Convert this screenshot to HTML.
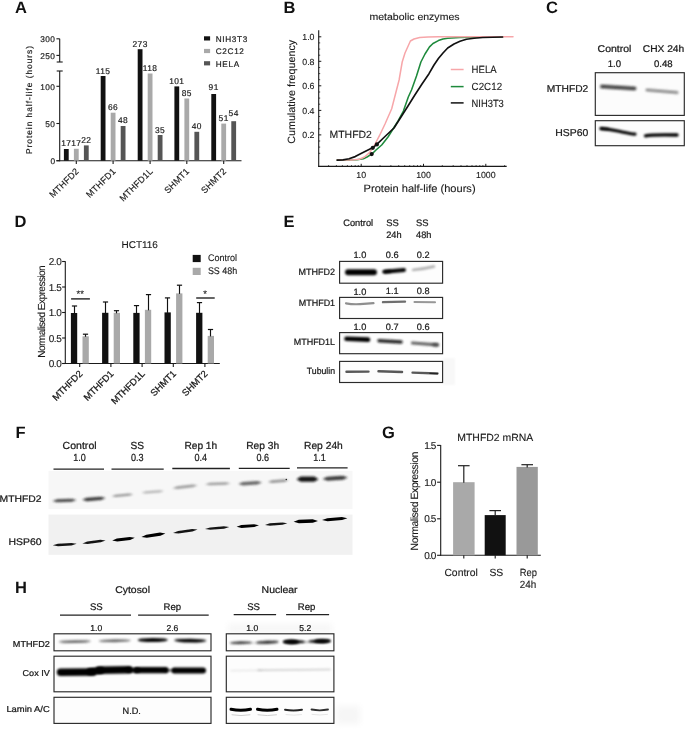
<!DOCTYPE html>
<html><head><meta charset="utf-8"><title>Figure</title>
<style>html,body{margin:0;padding:0;background:#fff;}svg{display:block;will-change:transform;}text{font-family:"Liberation Sans",sans-serif;text-rendering:geometricPrecision;stroke:#1a1a1a;stroke-width:0.12px;}text.L{stroke:none;}#panelA text{stroke-width:0.18px;}#panelC text,#panelE text,#panelF text,#panelH text{stroke-width:0.24px;}text.R{stroke-width:0.25px;}</style>
</head><body>
<svg width="685" height="729" viewBox="0 0 685 729">
<defs>
<filter id="b1" filterUnits="userSpaceOnUse" x="0" y="0" width="685" height="729"><feGaussianBlur stdDeviation="0.9"/></filter>
<filter id="b2" filterUnits="userSpaceOnUse" x="0" y="0" width="685" height="729"><feGaussianBlur stdDeviation="1.3"/></filter>
<filter id="b05" filterUnits="userSpaceOnUse" x="0" y="0" width="685" height="729"><feGaussianBlur stdDeviation="0.6"/></filter>
<filter id="b07" filterUnits="userSpaceOnUse" x="0" y="0" width="685" height="729"><feGaussianBlur stdDeviation="0.75"/></filter>
<filter id="b3" filterUnits="userSpaceOnUse" x="0" y="0" width="685" height="729"><feGaussianBlur stdDeviation="3"/></filter>
</defs>
<rect x="0" y="0" width="685" height="729" fill="#ffffff"/>
<text x="15" y="13" font-size="16.5" text-anchor="start" fill="#111" font-weight="bold" class="L">A</text>
<text x="283.5" y="12.5" font-size="16.5" text-anchor="start" fill="#111" font-weight="bold" class="L">B</text>
<text x="546" y="13" font-size="16.5" text-anchor="start" fill="#111" font-weight="bold" class="L">C</text>
<text x="14.5" y="226.5" font-size="16.5" text-anchor="start" fill="#111" font-weight="bold" class="L">D</text>
<text x="283.5" y="227" font-size="16.5" text-anchor="start" fill="#111" font-weight="bold" class="L">E</text>
<text x="15.5" y="437.5" font-size="16.5" text-anchor="start" fill="#111" font-weight="bold" class="L">F</text>
<text x="382" y="437.6" font-size="16.5" text-anchor="start" fill="#111" font-weight="bold" class="L">G</text>
<text x="15" y="592.8" font-size="16.5" text-anchor="start" fill="#111" font-weight="bold" class="L">H</text>
<g id="panelA">
<line x1="59.7" y1="38.8" x2="59.7" y2="62" stroke="#1a1a1a" stroke-width="1.1" />
<line x1="59.7" y1="71" x2="59.7" y2="161.2" stroke="#1a1a1a" stroke-width="1.1" />
<line x1="56.7" y1="62" x2="62.7" y2="62" stroke="#1a1a1a" stroke-width="1.1" />
<line x1="56.7" y1="71" x2="62.7" y2="71" stroke="#1a1a1a" stroke-width="1.1" />
<line x1="56.400000000000006" y1="38.8" x2="59.7" y2="38.8" stroke="#1a1a1a" stroke-width="1.1" />
<line x1="56.400000000000006" y1="55.4" x2="59.7" y2="55.4" stroke="#1a1a1a" stroke-width="1.1" />
<line x1="56.400000000000006" y1="86.3" x2="59.7" y2="86.3" stroke="#1a1a1a" stroke-width="1.1" />
<line x1="56.400000000000006" y1="123.5" x2="59.7" y2="123.5" stroke="#1a1a1a" stroke-width="1.1" />
<line x1="56.400000000000006" y1="160.7" x2="59.7" y2="160.7" stroke="#1a1a1a" stroke-width="1.1" />
<line x1="56.4" y1="160.7" x2="241.5" y2="160.7" stroke="#1a1a1a" stroke-width="1.1" />
<text x="55.400000000000006" y="42.199999999999996" font-size="8.3" text-anchor="end" fill="#1a1a1a" letter-spacing="0.4" >300</text>
<text x="55.400000000000006" y="58.8" font-size="8.3" text-anchor="end" fill="#1a1a1a" letter-spacing="0.4" >250</text>
<text x="55.400000000000006" y="89.7" font-size="8.3" text-anchor="end" fill="#1a1a1a" letter-spacing="0.4" >100</text>
<text x="55.400000000000006" y="126.9" font-size="8.3" text-anchor="end" fill="#1a1a1a" letter-spacing="0.4" >50</text>
<text x="55.400000000000006" y="164.1" font-size="8.3" text-anchor="end" fill="#1a1a1a" letter-spacing="0.4" >0</text>
<text x="32.0" y="100" font-size="8.4" text-anchor="middle" fill="#1a1a1a" textLength="108" lengthAdjust="spacing" transform="rotate(-90 32.0 100)" >Protein half-life (hours)</text>
<rect x="63.9" y="149" width="4.8" height="11.7" fill="#111111" />
<text x="66.3" y="146.2" font-size="8.4" text-anchor="middle" fill="#1a1a1a" letter-spacing="0.45" >17</text>
<rect x="73.9" y="148.8" width="4.8" height="11.9" fill="#a9a9a9" />
<text x="76.3" y="146.2" font-size="8.4" text-anchor="middle" fill="#1a1a1a" letter-spacing="0.45" >17</text>
<rect x="83.9" y="145.4" width="4.8" height="15.3" fill="#555555" />
<text x="86.3" y="143.4" font-size="8.4" text-anchor="middle" fill="#1a1a1a" letter-spacing="0.45" >22</text>
<line x1="76.3" y1="160.7" x2="76.3" y2="164.0" stroke="#1a1a1a" stroke-width="1.1" />
<text x="79.5" y="171.89999999999998" font-size="9.0" text-anchor="end" fill="#1a1a1a" letter-spacing="0.15" transform="rotate(-45 79.5 171.89999999999998)" >MTHFD2</text>
<rect x="100.7" y="76" width="4.8" height="84.7" fill="#111111" />
<text x="103.1" y="74.1" font-size="8.4" text-anchor="middle" fill="#1a1a1a" letter-spacing="0.45" >115</text>
<rect x="110.7" y="112.7" width="4.8" height="48.0" fill="#a9a9a9" />
<text x="113.1" y="109.7" font-size="8.4" text-anchor="middle" fill="#1a1a1a" letter-spacing="0.45" >66</text>
<rect x="120.7" y="126" width="4.8" height="34.7" fill="#555555" />
<text x="123.1" y="122.6" font-size="8.4" text-anchor="middle" fill="#1a1a1a" letter-spacing="0.45" >48</text>
<line x1="113.1" y1="160.7" x2="113.1" y2="164.0" stroke="#1a1a1a" stroke-width="1.1" />
<text x="116.3" y="171.89999999999998" font-size="9.0" text-anchor="end" fill="#1a1a1a" letter-spacing="0.15" transform="rotate(-45 116.3 171.89999999999998)" >MTHFD1</text>
<rect x="137.7" y="49.2" width="4.8" height="111.5" fill="#111111" />
<text x="140.1" y="46.7" font-size="8.4" text-anchor="middle" fill="#1a1a1a" letter-spacing="0.45" >273</text>
<rect x="147.7" y="73.5" width="4.8" height="87.2" fill="#a9a9a9" />
<text x="150.1" y="70.6" font-size="8.4" text-anchor="middle" fill="#1a1a1a" letter-spacing="0.45" >118</text>
<rect x="157.7" y="135" width="4.8" height="25.7" fill="#555555" />
<text x="160.1" y="132.9" font-size="8.4" text-anchor="middle" fill="#1a1a1a" letter-spacing="0.45" >35</text>
<line x1="150.1" y1="160.7" x2="150.1" y2="164.0" stroke="#1a1a1a" stroke-width="1.1" />
<text x="153.3" y="171.89999999999998" font-size="9.0" text-anchor="end" fill="#1a1a1a" letter-spacing="0.15" transform="rotate(-45 153.3 171.89999999999998)" >MTHFD1L</text>
<rect x="174.4" y="86.4" width="4.8" height="74.3" fill="#111111" />
<text x="176.8" y="83.5" font-size="8.4" text-anchor="middle" fill="#1a1a1a" letter-spacing="0.45" >101</text>
<rect x="184.4" y="98.5" width="4.8" height="62.2" fill="#a9a9a9" />
<text x="186.8" y="96.1" font-size="8.4" text-anchor="middle" fill="#1a1a1a" letter-spacing="0.45" >85</text>
<rect x="194.4" y="131.8" width="4.8" height="28.9" fill="#555555" />
<text x="196.8" y="129.4" font-size="8.4" text-anchor="middle" fill="#1a1a1a" letter-spacing="0.45" >40</text>
<line x1="186.8" y1="160.7" x2="186.8" y2="164.0" stroke="#1a1a1a" stroke-width="1.1" />
<text x="190.0" y="171.89999999999998" font-size="9.0" text-anchor="end" fill="#1a1a1a" letter-spacing="0.15" transform="rotate(-45 190.0 171.89999999999998)" >SHMT1</text>
<rect x="211.3" y="94" width="4.8" height="66.7" fill="#111111" />
<text x="213.7" y="89.6" font-size="8.4" text-anchor="middle" fill="#1a1a1a" letter-spacing="0.45" >91</text>
<rect x="221.3" y="123.6" width="4.8" height="37.1" fill="#a9a9a9" />
<text x="223.7" y="121.3" font-size="8.4" text-anchor="middle" fill="#1a1a1a" letter-spacing="0.45" >51</text>
<rect x="231.3" y="121.2" width="4.8" height="39.5" fill="#555555" />
<text x="233.7" y="116.2" font-size="8.4" text-anchor="middle" fill="#1a1a1a" letter-spacing="0.45" >54</text>
<line x1="223.7" y1="160.7" x2="223.7" y2="164.0" stroke="#1a1a1a" stroke-width="1.1" />
<text x="226.9" y="171.89999999999998" font-size="9.0" text-anchor="end" fill="#1a1a1a" letter-spacing="0.15" transform="rotate(-45 226.9 171.89999999999998)" >SHMT2</text>
<rect x="204" y="36.3" width="6.1" height="4.2" fill="#111111" />
<text x="215.8" y="41.6" font-size="8.2" text-anchor="start" fill="#1a1a1a" letter-spacing="0.65" >NIH3T3</text>
<rect x="204" y="48.9" width="6.1" height="4.2" fill="#a9a9a9" />
<text x="215.8" y="54.2" font-size="8.2" text-anchor="start" fill="#1a1a1a" letter-spacing="0.65" >C2C12</text>
<rect x="204" y="61.199999999999996" width="6.1" height="4.2" fill="#555555" />
<text x="215.8" y="66.5" font-size="8.2" text-anchor="start" fill="#1a1a1a" letter-spacing="0.65" >HELA</text>
</g>
<g id="panelB">
<line x1="318.7" y1="30.2" x2="318.7" y2="166.9" stroke="#1a1a1a" stroke-width="1.1" />
<line x1="318.2" y1="166.4" x2="506.7" y2="166.4" stroke="#1a1a1a" stroke-width="1.1" />
<line x1="318.7" y1="153.3" x2="320.2" y2="153.3" stroke="#1a1a1a" stroke-width="0.8" />
<line x1="318.7" y1="147.1" x2="320.2" y2="147.1" stroke="#1a1a1a" stroke-width="0.8" />
<line x1="318.7" y1="141.0" x2="320.2" y2="141.0" stroke="#1a1a1a" stroke-width="0.8" />
<line x1="318.7" y1="134.9" x2="321.3" y2="134.9" stroke="#1a1a1a" stroke-width="1.0" />
<line x1="318.7" y1="128.8" x2="320.2" y2="128.8" stroke="#1a1a1a" stroke-width="0.8" />
<line x1="318.7" y1="122.6" x2="320.2" y2="122.6" stroke="#1a1a1a" stroke-width="0.8" />
<line x1="318.7" y1="116.5" x2="320.2" y2="116.5" stroke="#1a1a1a" stroke-width="0.8" />
<line x1="318.7" y1="110.4" x2="321.3" y2="110.4" stroke="#1a1a1a" stroke-width="1.0" />
<line x1="318.7" y1="104.2" x2="320.2" y2="104.2" stroke="#1a1a1a" stroke-width="0.8" />
<line x1="318.7" y1="98.1" x2="320.2" y2="98.1" stroke="#1a1a1a" stroke-width="0.8" />
<line x1="318.7" y1="92.0" x2="320.2" y2="92.0" stroke="#1a1a1a" stroke-width="0.8" />
<line x1="318.7" y1="85.8" x2="321.3" y2="85.8" stroke="#1a1a1a" stroke-width="1.0" />
<line x1="318.7" y1="79.7" x2="320.2" y2="79.7" stroke="#1a1a1a" stroke-width="0.8" />
<line x1="318.7" y1="73.6" x2="320.2" y2="73.6" stroke="#1a1a1a" stroke-width="0.8" />
<line x1="318.7" y1="67.5" x2="320.2" y2="67.5" stroke="#1a1a1a" stroke-width="0.8" />
<line x1="318.7" y1="61.3" x2="321.3" y2="61.3" stroke="#1a1a1a" stroke-width="1.0" />
<line x1="318.7" y1="55.2" x2="320.2" y2="55.2" stroke="#1a1a1a" stroke-width="0.8" />
<line x1="318.7" y1="49.1" x2="320.2" y2="49.1" stroke="#1a1a1a" stroke-width="0.8" />
<line x1="318.7" y1="42.9" x2="320.2" y2="42.9" stroke="#1a1a1a" stroke-width="0.8" />
<line x1="318.7" y1="36.8" x2="321.3" y2="36.8" stroke="#1a1a1a" stroke-width="1.0" />
<text x="314.5" y="138.1" font-size="8.8" text-anchor="end" fill="#1a1a1a" >0.2</text>
<text x="314.5" y="113.6" font-size="8.8" text-anchor="end" fill="#1a1a1a" >0.4</text>
<text x="314.5" y="89.0" font-size="8.8" text-anchor="end" fill="#1a1a1a" >0.6</text>
<text x="314.5" y="64.5" font-size="8.8" text-anchor="end" fill="#1a1a1a" >0.8</text>
<text x="314.5" y="40.0" font-size="8.8" text-anchor="end" fill="#1a1a1a" >1.0</text>
<line x1="328.6" y1="166.4" x2="328.6" y2="165.0" stroke="#1a1a1a" stroke-width="0.7" />
<line x1="336.4" y1="166.4" x2="336.4" y2="165.0" stroke="#1a1a1a" stroke-width="0.7" />
<line x1="342.4" y1="166.4" x2="342.4" y2="165.0" stroke="#1a1a1a" stroke-width="0.7" />
<line x1="347.4" y1="166.4" x2="347.4" y2="165.0" stroke="#1a1a1a" stroke-width="0.7" />
<line x1="351.5" y1="166.4" x2="351.5" y2="165.0" stroke="#1a1a1a" stroke-width="0.7" />
<line x1="355.2" y1="166.4" x2="355.2" y2="165.0" stroke="#1a1a1a" stroke-width="0.7" />
<line x1="358.3" y1="166.4" x2="358.3" y2="165.0" stroke="#1a1a1a" stroke-width="0.7" />
<line x1="361.2" y1="166.4" x2="361.2" y2="163.8" stroke="#1a1a1a" stroke-width="1.0" />
<line x1="380.0" y1="166.4" x2="380.0" y2="165.0" stroke="#1a1a1a" stroke-width="0.7" />
<line x1="390.9" y1="166.4" x2="390.9" y2="165.0" stroke="#1a1a1a" stroke-width="0.7" />
<line x1="398.7" y1="166.4" x2="398.7" y2="165.0" stroke="#1a1a1a" stroke-width="0.7" />
<line x1="404.7" y1="166.4" x2="404.7" y2="165.0" stroke="#1a1a1a" stroke-width="0.7" />
<line x1="409.7" y1="166.4" x2="409.7" y2="165.0" stroke="#1a1a1a" stroke-width="0.7" />
<line x1="413.8" y1="166.4" x2="413.8" y2="165.0" stroke="#1a1a1a" stroke-width="0.7" />
<line x1="417.5" y1="166.4" x2="417.5" y2="165.0" stroke="#1a1a1a" stroke-width="0.7" />
<line x1="420.6" y1="166.4" x2="420.6" y2="165.0" stroke="#1a1a1a" stroke-width="0.7" />
<line x1="423.5" y1="166.4" x2="423.5" y2="163.8" stroke="#1a1a1a" stroke-width="1.0" />
<line x1="442.3" y1="166.4" x2="442.3" y2="165.0" stroke="#1a1a1a" stroke-width="0.7" />
<line x1="453.2" y1="166.4" x2="453.2" y2="165.0" stroke="#1a1a1a" stroke-width="0.7" />
<line x1="461.0" y1="166.4" x2="461.0" y2="165.0" stroke="#1a1a1a" stroke-width="0.7" />
<line x1="467.0" y1="166.4" x2="467.0" y2="165.0" stroke="#1a1a1a" stroke-width="0.7" />
<line x1="472.0" y1="166.4" x2="472.0" y2="165.0" stroke="#1a1a1a" stroke-width="0.7" />
<line x1="476.1" y1="166.4" x2="476.1" y2="165.0" stroke="#1a1a1a" stroke-width="0.7" />
<line x1="479.8" y1="166.4" x2="479.8" y2="165.0" stroke="#1a1a1a" stroke-width="0.7" />
<line x1="482.9" y1="166.4" x2="482.9" y2="165.0" stroke="#1a1a1a" stroke-width="0.7" />
<line x1="485.8" y1="166.4" x2="485.8" y2="163.8" stroke="#1a1a1a" stroke-width="1.0" />
<line x1="504.6" y1="166.4" x2="504.6" y2="165.0" stroke="#1a1a1a" stroke-width="0.7" />
<text x="361.2" y="178.3" font-size="8.8" text-anchor="middle" fill="#1a1a1a" >10</text>
<text x="423.5" y="178.3" font-size="8.8" text-anchor="middle" fill="#1a1a1a" >100</text>
<text x="485.8" y="178.3" font-size="8.8" text-anchor="middle" fill="#1a1a1a" >1000</text>
<text x="419.6" y="192.3" font-size="10.5" text-anchor="middle" fill="#1a1a1a" textLength="112" lengthAdjust="spacingAndGlyphs" >Protein half-life (hours)</text>
<text x="295.2" y="91.8" font-size="10.5" text-anchor="middle" fill="#1a1a1a" textLength="104" lengthAdjust="spacingAndGlyphs" transform="rotate(-90 295.2 91.8)" >Cumulative frequency</text>
<text x="414.5" y="19.8" font-size="9.8" text-anchor="middle" fill="#1a1a1a" textLength="90" lengthAdjust="spacingAndGlyphs" >metabolic enzymes</text>
<polyline points="337.2,160.1 350,160.1 357,159.8 363.4,158.7 367,157 371.7,154.2 376,150 381.7,145 388,137 393,129 398.1,120.9 403.4,111 408.3,97 411.5,90 416.5,76 420.9,62 425,54 429.5,46.9 433,43.5 438.4,40.6 443,39 447.7,38.2 460,37.6 473.4,37.3 502.6,37" fill="none" stroke="#1e8a3c" stroke-width="1.55" stroke-linejoin="round" stroke-linecap="round"/>
<polyline points="337.2,160.1 352,160 359.3,159.3 364.5,157 369.5,152.6 374,146 379.7,135.2 385,124 391.7,108.8 396,92 399.1,80 402.2,62 405,53 410.4,41 414,39 419.7,37.6 428,37.1 438.4,36.8 470,36.8 513,36.8" fill="none" stroke="#f7a6a9" stroke-width="1.5" stroke-linejoin="round" stroke-linecap="round"/>
<polyline points="337.2,160.1 343,159.9 349,158.8 355.2,156.6 362,153 368,150 373,147.6 376.8,144.4 385,136.5 394,128 401,117 408,106 415,94.7 422,84 429,73.7 434,65 438.4,58.5 443,53 447.7,48 454,44 460,41.3 466.4,39.2 474,38.2 482.8,37.5 502.6,37" fill="none" stroke="#111111" stroke-width="1.65" stroke-linejoin="round" stroke-linecap="round"/>
<circle cx="372.8" cy="147.8" r="2.1" fill="#111"/>
<circle cx="376.9" cy="144.4" r="2.1" fill="#111"/>
<circle cx="371.7" cy="154.1" r="2.1" fill="#111"/>
<text x="329.5" y="137.8" font-size="10.4" text-anchor="start" fill="#1a1a1a" textLength="42.4" lengthAdjust="spacingAndGlyphs" >MTHFD2</text>
<line x1="450.8" y1="69.5" x2="463.6" y2="69.5" stroke="#f7a6a9" stroke-width="1.5" />
<text x="471.6" y="73.3" font-size="10.4" text-anchor="start" fill="#1a1a1a" textLength="25" lengthAdjust="spacingAndGlyphs" >HELA</text>
<line x1="450.8" y1="86.6" x2="463.6" y2="86.6" stroke="#1e8a3c" stroke-width="1.5" />
<text x="471.6" y="90.39999999999999" font-size="10.4" text-anchor="start" fill="#1a1a1a" textLength="30.5" lengthAdjust="spacingAndGlyphs" >C2C12</text>
<line x1="450.8" y1="102.9" x2="463.6" y2="102.9" stroke="#111" stroke-width="1.5" />
<text x="471.6" y="106.7" font-size="10.4" text-anchor="start" fill="#1a1a1a" textLength="32.2" lengthAdjust="spacingAndGlyphs" >NIH3T3</text>
</g>
<g id="panelC">
<text x="614.5" y="52.3" font-size="9.8" text-anchor="middle" fill="#1a1a1a" textLength="33.8" lengthAdjust="spacingAndGlyphs" >Control</text>
<text x="663.5" y="52.3" font-size="9.8" text-anchor="middle" fill="#1a1a1a" textLength="41.5" lengthAdjust="spacingAndGlyphs" >CHX 24h</text>
<text x="614.4" y="66.8" font-size="9.6" text-anchor="middle" fill="#1a1a1a" >1.0</text>
<text x="663.3" y="66.8" font-size="9.6" text-anchor="middle" fill="#1a1a1a" >0.48</text>
<rect x="595.3" y="72.7" width="89" height="42.7" fill="#fcfcfc" stroke="#2a2a2a" stroke-width="1.15" />
<rect x="595.3" y="120.7" width="89" height="25" fill="#fcfcfc" stroke="#2a2a2a" stroke-width="1.15" />
<text x="588.3" y="92.2" font-size="10" text-anchor="end" fill="#1a1a1a" textLength="41.5" lengthAdjust="spacingAndGlyphs" >MTHFD2</text>
<text x="588.3" y="136.4" font-size="10" text-anchor="end" fill="#1a1a1a" textLength="33" lengthAdjust="spacingAndGlyphs" >HSP60</text>
<line x1="602" y1="86.6" x2="634.5" y2="88.6" stroke="#555" stroke-width="5.0" stroke-linecap="round" opacity="0.35" filter="url(#b2)"/>
<line x1="602" y1="86.5" x2="634.5" y2="88.5" stroke="#222" stroke-width="2.8" stroke-linecap="round" opacity="0.8" filter="url(#b1)"/>
<line x1="647" y1="90.0" x2="677" y2="92.6" stroke="#777" stroke-width="4.0" stroke-linecap="round" opacity="0.3" filter="url(#b2)"/>
<line x1="647" y1="90.0" x2="677" y2="92.6" stroke="#444" stroke-width="2.0" stroke-linecap="round" opacity="0.55" filter="url(#b1)"/>
<line x1="601" y1="128.4" x2="608" y2="128.8" stroke="#000" stroke-width="1.6" stroke-linecap="round" opacity="0.8" filter="url(#b1)"/>
<path d="M601 128.6 C610 128.8 615 130.5 622 132 S632 134 635 134.2" fill="none" stroke="#000" stroke-width="3.2" stroke-linecap="round" filter="url(#b1)"/>
<path d="M645.5 135.8 C652 134.6 668 134.8 677 135" fill="none" stroke="#000" stroke-width="3.4" stroke-linecap="round" filter="url(#b1)"/>
</g>
<g id="panelD">
<line x1="65.3" y1="261.2" x2="65.3" y2="364.0" stroke="#1a1a1a" stroke-width="1.1" />
<line x1="62.4" y1="363.5" x2="219.8" y2="363.5" stroke="#1a1a1a" stroke-width="1.1" />
<line x1="62.099999999999994" y1="363.5" x2="65.3" y2="363.5" stroke="#1a1a1a" stroke-width="1.1" />
<text x="61.3" y="367.0" font-size="10" text-anchor="end" fill="#1a1a1a" letter-spacing="-0.45" >0.0</text>
<line x1="62.099999999999994" y1="338.0" x2="65.3" y2="338.0" stroke="#1a1a1a" stroke-width="1.1" />
<text x="61.3" y="341.5" font-size="10" text-anchor="end" fill="#1a1a1a" letter-spacing="-0.45" >0.5</text>
<line x1="62.099999999999994" y1="312.5" x2="65.3" y2="312.5" stroke="#1a1a1a" stroke-width="1.1" />
<text x="61.3" y="316.0" font-size="10" text-anchor="end" fill="#1a1a1a" letter-spacing="-0.45" >1.0</text>
<line x1="62.099999999999994" y1="287.0" x2="65.3" y2="287.0" stroke="#1a1a1a" stroke-width="1.1" />
<text x="61.3" y="290.5" font-size="10" text-anchor="end" fill="#1a1a1a" letter-spacing="-0.45" >1.5</text>
<line x1="62.099999999999994" y1="261.5" x2="65.3" y2="261.5" stroke="#1a1a1a" stroke-width="1.1" />
<text x="61.3" y="265.0" font-size="10" text-anchor="end" fill="#1a1a1a" letter-spacing="-0.45" >2.0</text>
<text x="44.8" y="311.5" font-size="10.2" text-anchor="middle" fill="#1a1a1a" textLength="92.5" lengthAdjust="spacing" transform="rotate(-90 44.8 311.5)" >Normalised Expression</text>
<text x="139.7" y="248.0" font-size="9.8" text-anchor="middle" fill="#1a1a1a" textLength="36.5" lengthAdjust="spacingAndGlyphs" >HCT116</text>
<rect x="70.9" y="313.0" width="6.3" height="50.5" fill="#111111" />
<line x1="74.5" y1="313.5" x2="74.5" y2="306" stroke="#111" stroke-width="1.15" />
<line x1="71.9" y1="306" x2="77.1" y2="306" stroke="#111" stroke-width="1.2" />
<rect x="82.5" y="336.3" width="6.3" height="27.2" fill="#a9a9a9" />
<line x1="85.5" y1="336.8" x2="85.5" y2="334.2" stroke="#111" stroke-width="1.15" />
<line x1="82.9" y1="334.2" x2="88.1" y2="334.2" stroke="#111" stroke-width="1.2" />
<line x1="79.7" y1="363.5" x2="79.7" y2="367.1" stroke="#1a1a1a" stroke-width="1.1" />
<text x="83.1" y="374.3" font-size="9.4" text-anchor="end" fill="#1a1a1a" transform="rotate(-45 83.1 374.3)" class="R">MTHFD2</text>
<rect x="102.1" y="312.8" width="6.3" height="50.7" fill="#111111" />
<line x1="105.5" y1="313.3" x2="105.5" y2="302" stroke="#111" stroke-width="1.15" />
<line x1="102.9" y1="302" x2="108.1" y2="302" stroke="#111" stroke-width="1.2" />
<rect x="113.7" y="312.8" width="6.3" height="50.7" fill="#a9a9a9" />
<line x1="116.5" y1="313.3" x2="116.5" y2="310.7" stroke="#111" stroke-width="1.15" />
<line x1="113.9" y1="310.7" x2="119.1" y2="310.7" stroke="#111" stroke-width="1.2" />
<line x1="110.9" y1="363.5" x2="110.9" y2="367.1" stroke="#1a1a1a" stroke-width="1.1" />
<text x="114.3" y="374.3" font-size="9.4" text-anchor="end" fill="#1a1a1a" transform="rotate(-45 114.3 374.3)" class="R">MTHFD1</text>
<rect x="133.3" y="312.9" width="6.3" height="50.6" fill="#111111" />
<line x1="136.5" y1="313.4" x2="136.5" y2="305.6" stroke="#111" stroke-width="1.15" />
<line x1="133.9" y1="305.6" x2="139.1" y2="305.6" stroke="#111" stroke-width="1.2" />
<rect x="144.9" y="309.8" width="6.3" height="53.7" fill="#a9a9a9" />
<line x1="148.5" y1="310.3" x2="148.5" y2="294.6" stroke="#111" stroke-width="1.15" />
<line x1="145.9" y1="294.6" x2="151.1" y2="294.6" stroke="#111" stroke-width="1.2" />
<line x1="142.1" y1="363.5" x2="142.1" y2="367.1" stroke="#1a1a1a" stroke-width="1.1" />
<text x="145.5" y="374.3" font-size="9.4" text-anchor="end" fill="#1a1a1a" transform="rotate(-45 145.5 374.3)" class="R">MTHFD1L</text>
<rect x="164.5" y="312.4" width="6.3" height="51.1" fill="#111111" />
<line x1="167.5" y1="312.9" x2="167.5" y2="297.9" stroke="#111" stroke-width="1.15" />
<line x1="164.9" y1="297.9" x2="170.1" y2="297.9" stroke="#111" stroke-width="1.2" />
<rect x="176.1" y="293.4" width="6.3" height="70.1" fill="#a9a9a9" />
<line x1="179.5" y1="293.9" x2="179.5" y2="285.2" stroke="#111" stroke-width="1.15" />
<line x1="176.9" y1="285.2" x2="182.1" y2="285.2" stroke="#111" stroke-width="1.2" />
<line x1="173.3" y1="363.5" x2="173.3" y2="367.1" stroke="#1a1a1a" stroke-width="1.1" />
<text x="176.7" y="374.3" font-size="9.4" text-anchor="end" fill="#1a1a1a" transform="rotate(-45 176.7 374.3)" class="R">SHMT1</text>
<rect x="196.1" y="312.8" width="6.3" height="50.7" fill="#111111" />
<line x1="199.5" y1="313.3" x2="199.5" y2="302.6" stroke="#111" stroke-width="1.15" />
<line x1="196.9" y1="302.6" x2="202.1" y2="302.6" stroke="#111" stroke-width="1.2" />
<rect x="207.7" y="335.9" width="6.3" height="27.6" fill="#a9a9a9" />
<line x1="210.5" y1="336.4" x2="210.5" y2="329.5" stroke="#111" stroke-width="1.15" />
<line x1="207.9" y1="329.5" x2="213.1" y2="329.5" stroke="#111" stroke-width="1.2" />
<line x1="204.9" y1="363.5" x2="204.9" y2="367.1" stroke="#1a1a1a" stroke-width="1.1" />
<text x="208.3" y="374.3" font-size="9.4" text-anchor="end" fill="#1a1a1a" transform="rotate(-45 208.3 374.3)" class="R">SHMT2</text>
<line x1="71.1" y1="298.9" x2="89.9" y2="298.9" stroke="#111" stroke-width="1.3" />
<text x="80.2" y="296.6" font-size="9.5" text-anchor="middle" fill="#1a1a1a" >**</text>
<line x1="196.2" y1="298.0" x2="214.7" y2="298.0" stroke="#111" stroke-width="1.3" />
<text x="205.2" y="296.6" font-size="9.5" text-anchor="middle" fill="#1a1a1a" >*</text>
<rect x="192.7" y="254.9" width="8" height="7.2" fill="#111" />
<rect x="192.7" y="267.8" width="8" height="7.2" fill="#a9a9a9" />
<text x="207.9" y="261.4" font-size="9.6" text-anchor="start" fill="#1a1a1a" textLength="29.2" lengthAdjust="spacingAndGlyphs" >Control</text>
<text x="207.9" y="274.4" font-size="9.6" text-anchor="start" fill="#1a1a1a" textLength="29.4" lengthAdjust="spacingAndGlyphs" >SS 48h</text>
</g>
<g id="panelE">
<text x="343.3" y="226.2" font-size="9.4" text-anchor="start" fill="#1a1a1a" textLength="29.8" lengthAdjust="spacingAndGlyphs" >Control</text>
<text x="386.2" y="226.2" font-size="9.4" text-anchor="start" fill="#1a1a1a" >SS</text>
<text x="386.2" y="237.6" font-size="9.4" text-anchor="start" fill="#1a1a1a" textLength="15.4" lengthAdjust="spacingAndGlyphs" >24h</text>
<text x="416" y="226.2" font-size="9.4" text-anchor="start" fill="#1a1a1a" >SS</text>
<text x="416" y="237.6" font-size="9.4" text-anchor="start" fill="#1a1a1a" textLength="15.4" lengthAdjust="spacingAndGlyphs" >48h</text>
<text x="359.9" y="257.9" font-size="9.2" text-anchor="middle" fill="#1a1a1a" >1.0</text>
<text x="392.2" y="257.9" font-size="9.2" text-anchor="middle" fill="#1a1a1a" >0.6</text>
<text x="423.2" y="257.9" font-size="9.2" text-anchor="middle" fill="#1a1a1a" >0.2</text>
<text x="359.9" y="294.9" font-size="9.2" text-anchor="middle" fill="#1a1a1a" >1.0</text>
<text x="392.2" y="294.0" font-size="9.2" text-anchor="middle" fill="#1a1a1a" >1.1</text>
<text x="423.2" y="293.6" font-size="9.2" text-anchor="middle" fill="#1a1a1a" >0.8</text>
<text x="359.9" y="330.4" font-size="9.2" text-anchor="middle" fill="#1a1a1a" >1.0</text>
<text x="392.2" y="330.4" font-size="9.2" text-anchor="middle" fill="#1a1a1a" >0.7</text>
<text x="423.2" y="330.4" font-size="9.2" text-anchor="middle" fill="#1a1a1a" >0.6</text>
<rect x="443" y="358" width="12" height="27" fill="#f8f8f8" filter="url(#b2)"/>
<rect x="339.6" y="261.4" width="103" height="21.8" fill="#fdfdfd" stroke="#2a2a2a" stroke-width="1.15" />
<rect x="339.6" y="297.4" width="103" height="21.1" fill="#fdfdfd" stroke="#2a2a2a" stroke-width="1.15" />
<rect x="339.6" y="332.6" width="103" height="21.1" fill="#fdfdfd" stroke="#2a2a2a" stroke-width="1.15" />
<rect x="339.6" y="361.4" width="103" height="21.1" fill="#fdfdfd" stroke="#2a2a2a" stroke-width="1.15" />
<text x="335.1" y="275.3" font-size="9.2" text-anchor="end" fill="#1a1a1a" textLength="36.5" lengthAdjust="spacingAndGlyphs" >MTHFD2</text>
<text x="335.1" y="306.4" font-size="9.2" text-anchor="end" fill="#1a1a1a" textLength="36.3" lengthAdjust="spacingAndGlyphs" >MTHFD1</text>
<text x="335.1" y="344.6" font-size="9.2" text-anchor="end" fill="#1a1a1a" textLength="41.4" lengthAdjust="spacingAndGlyphs" >MTHFD1L</text>
<text x="335.1" y="373.9" font-size="9.2" text-anchor="end" fill="#1a1a1a" textLength="28.3" lengthAdjust="spacingAndGlyphs" >Tubulin</text>
<line x1="348" y1="272.2" x2="374" y2="272.2" stroke="#000" stroke-width="5.9" stroke-linecap="round" opacity="1" filter="url(#b1)"/>
<line x1="385" y1="271.7" x2="404" y2="269.9" stroke="#000" stroke-width="4.0" stroke-linecap="round" opacity="1" filter="url(#b1)"/>
<line x1="383.5" y1="271.8" x2="390" y2="271.3" stroke="#000" stroke-width="2.4" stroke-linecap="round" opacity="0.8" filter="url(#b1)"/>
<path d="M413 269.9 Q424 268.9 434 266.5" fill="none" stroke="#666" stroke-width="2.4" stroke-linecap="round" opacity="0.55" filter="url(#b1)"/>
<path d="M346 303.3 Q353 304.6 360 304.1 T373.5 303.2" fill="none" stroke="#444" stroke-width="2.2" stroke-linecap="round" opacity="0.6" filter="url(#b07)"/>
<line x1="383" y1="302.1" x2="405" y2="301.6" stroke="#333" stroke-width="2.4" stroke-linecap="round" opacity="0.7" filter="url(#b07)"/>
<line x1="414.5" y1="302.0" x2="435" y2="302.3" stroke="#444" stroke-width="2.1" stroke-linecap="round" opacity="0.55" filter="url(#b07)"/>
<line x1="346.5" y1="338.8" x2="368" y2="339.6" stroke="#000" stroke-width="4.6" stroke-linecap="round" opacity="1" filter="url(#b1)"/>
<line x1="379" y1="340.7" x2="401" y2="342.0" stroke="#111" stroke-width="3.6" stroke-linecap="round" opacity="0.9" filter="url(#b1)"/>
<line x1="412.5" y1="343.0" x2="437" y2="344.8" stroke="#333" stroke-width="3.2" stroke-linecap="round" opacity="0.75" filter="url(#b2)"/>
<line x1="434" y1="344.6" x2="437.5" y2="344.9" stroke="#333" stroke-width="3.6" stroke-linecap="round" opacity="0.55" filter="url(#b2)"/>
<line x1="346.5" y1="371.8" x2="368.5" y2="371.6" stroke="#222" stroke-width="2.4" stroke-linecap="round" opacity="0.75" filter="url(#b07)"/>
<line x1="378.5" y1="371.2" x2="402" y2="372.0" stroke="#222" stroke-width="2.5" stroke-linecap="round" opacity="0.75" filter="url(#b07)"/>
<line x1="412.5" y1="372.7" x2="437.5" y2="373.5" stroke="#222" stroke-width="2.3" stroke-linecap="round" opacity="0.75" filter="url(#b07)"/>
<line x1="430" y1="373.4" x2="437.5" y2="373.6" stroke="#111" stroke-width="1.4" stroke-linecap="round" opacity="0.7" filter="url(#b05)"/>
</g>
<g id="panelF">
<rect x="48.5" y="470.8" width="304" height="38.2" fill="#f7f7f7" />
<rect x="48.5" y="514.6" width="304" height="40.2" fill="#f1f1f1" />
<text x="79.6" y="449.0" font-size="10.3" text-anchor="middle" fill="#1a1a1a" textLength="34.0" lengthAdjust="spacingAndGlyphs" >Control</text>
<text x="79.6" y="460.6" font-size="10.3" text-anchor="middle" fill="#1a1a1a" textLength="12.6" lengthAdjust="spacingAndGlyphs" >1.0</text>
<text x="137.3" y="449.0" font-size="10.3" text-anchor="middle" fill="#1a1a1a" textLength="13.6" lengthAdjust="spacingAndGlyphs" >SS</text>
<text x="137.3" y="460.6" font-size="10.3" text-anchor="middle" fill="#1a1a1a" textLength="12.6" lengthAdjust="spacingAndGlyphs" >0.3</text>
<text x="200.8" y="449.0" font-size="10.3" text-anchor="middle" fill="#1a1a1a" textLength="32.8" lengthAdjust="spacingAndGlyphs" >Rep 1h</text>
<text x="200.8" y="460.6" font-size="10.3" text-anchor="middle" fill="#1a1a1a" textLength="12.6" lengthAdjust="spacingAndGlyphs" >0.4</text>
<text x="262.7" y="449.0" font-size="10.3" text-anchor="middle" fill="#1a1a1a" textLength="33.0" lengthAdjust="spacingAndGlyphs" >Rep 3h</text>
<text x="262.7" y="460.6" font-size="10.3" text-anchor="middle" fill="#1a1a1a" textLength="12.6" lengthAdjust="spacingAndGlyphs" >0.6</text>
<text x="323.4" y="449.0" font-size="10.3" text-anchor="middle" fill="#1a1a1a" textLength="38.8" lengthAdjust="spacingAndGlyphs" >Rep 24h</text>
<text x="319.6" y="460.6" font-size="10.3" text-anchor="middle" fill="#1a1a1a" textLength="12.6" lengthAdjust="spacingAndGlyphs" >1.1</text>
<line x1="53.5" y1="469.1" x2="104" y2="469.1" stroke="#222" stroke-width="1.3" />
<line x1="111.5" y1="469.1" x2="163.7" y2="469.1" stroke="#222" stroke-width="1.3" />
<line x1="172.3" y1="468.5" x2="229.9" y2="468.5" stroke="#222" stroke-width="1.3" />
<line x1="238.8" y1="468.3" x2="289.7" y2="468.3" stroke="#222" stroke-width="1.3" />
<line x1="297" y1="467.8" x2="347.6" y2="467.8" stroke="#222" stroke-width="1.3" />
<text x="41.6" y="502.4" font-size="9.6" text-anchor="end" fill="#1a1a1a" textLength="42" lengthAdjust="spacingAndGlyphs" >MTHFD2</text>
<text x="41.6" y="545.3" font-size="9.6" text-anchor="end" fill="#1a1a1a" textLength="33" lengthAdjust="spacingAndGlyphs" >HSP60</text>
<polygon points="52.40,501.02 57.08,499.35 71.80,498.78 76.60,500.08 71.92,501.75 57.20,502.32" fill="#222" opacity="0.82" filter="url(#b1)"/>
<polygon points="82.20,499.85 86.67,497.85 100.88,496.76 105.60,498.05 101.13,500.05 86.92,501.14" fill="#222" opacity="0.88" filter="url(#b1)"/>
<polygon points="111.40,496.36 115.63,494.79 128.95,493.51 133.40,494.24 129.17,495.81 115.85,497.09" fill="#444" opacity="0.55" filter="url(#b1)"/>
<polygon points="141.40,492.74 145.79,491.37 159.55,490.35 164.10,491.06 159.71,492.43 145.95,493.45" fill="#555" opacity="0.42" filter="url(#b1)"/>
<polygon points="172.40,488.17 177.16,486.23 192.52,484.44 197.60,485.23 192.84,487.17 177.48,488.96" fill="#444" opacity="0.5" filter="url(#b1)"/>
<polygon points="205.00,484.33 209.94,482.84 225.55,482.13 230.60,483.17 225.66,484.66 210.05,485.37" fill="#444" opacity="0.5" filter="url(#b1)"/>
<polygon points="238.20,483.93 242.79,481.91 257.31,481.08 262.10,482.57 257.51,484.59 242.99,485.42" fill="#333" opacity="0.72" filter="url(#b1)"/>
<polygon points="267.80,482.05 271.81,480.32 284.35,479.24 288.60,480.25 284.59,481.98 272.05,483.06" fill="#444" opacity="0.55" filter="url(#b1)"/>
<polygon points="296.40,479.20 300.78,476.56 314.22,476.56 318.60,479.20 314.22,481.84 300.78,481.84" fill="#111" opacity="0.97" filter="url(#b1)"/>
<polygon points="322.40,479.04 327.23,476.75 342.72,475.79 347.80,477.46 342.97,479.75 327.48,480.71" fill="#222" opacity="0.88" filter="url(#b1)"/>
<circle cx="286.3" cy="479.5" r="0.8" fill="#222"/>
<polygon points="52.80,545.34 57.84,543.78 71.40,542.94 76.60,543.86 71.56,545.42 58.00,546.26" fill="#111" opacity="0.97" filter="url(#b05)"/>
<polygon points="82.40,543.38 87.24,541.51 100.44,539.83 105.60,540.42 100.76,542.29 87.56,543.97" fill="#111" opacity="0.97" filter="url(#b05)"/>
<polygon points="112.20,540.57 116.90,538.47 129.74,536.91 134.80,537.83 130.10,539.93 117.26,541.49" fill="#000" opacity="1" filter="url(#b05)"/>
<polygon points="141.41,536.99 146.32,534.63 160.00,532.59 165.39,533.41 160.48,535.77 146.80,537.81" fill="#000" opacity="1" filter="url(#b05)"/>
<polygon points="173.01,532.99 178.10,530.99 192.14,528.95 197.59,529.41 192.50,531.41 178.46,533.45" fill="#111" opacity="0.97" filter="url(#b05)"/>
<polygon points="205.00,529.05 210.10,527.38 223.90,526.24 229.20,527.05 224.10,528.72 210.30,529.86" fill="#111" opacity="0.97" filter="url(#b05)"/>
<polygon points="236.60,526.84 241.34,525.08 254.06,524.18 259.00,525.26 254.26,527.02 241.54,527.92" fill="#000" opacity="1" filter="url(#b05)"/>
<polygon points="265.00,524.95 269.75,523.34 282.47,522.38 287.40,523.25 282.65,524.86 269.93,525.82" fill="#111" opacity="0.97" filter="url(#b05)"/>
<polygon points="293.60,521.72 298.78,519.84 312.70,519.36 318.00,520.88 312.82,522.76 298.90,523.24" fill="#000" opacity="1" filter="url(#b05)"/>
<polygon points="322.00,520.04 327.33,518.13 341.85,517.05 347.40,518.16 342.07,520.07 327.55,521.15" fill="#000" opacity="1" filter="url(#b05)"/>
</g>
<g id="panelG">
<line x1="440.7" y1="444.9" x2="440.7" y2="555.8" stroke="#1a1a1a" stroke-width="1.1" />
<line x1="440.2" y1="555.3" x2="540.8" y2="555.3" stroke="#1a1a1a" stroke-width="1.1" />
<line x1="437.09999999999997" y1="445.4" x2="440.7" y2="445.4" stroke="#1a1a1a" stroke-width="1.1" />
<text x="435.5" y="449.0" font-size="10.0" text-anchor="end" fill="#1a1a1a" letter-spacing="-0.85" >1.5</text>
<line x1="437.09999999999997" y1="482.2" x2="440.7" y2="482.2" stroke="#1a1a1a" stroke-width="1.1" />
<text x="435.5" y="485.8" font-size="10.0" text-anchor="end" fill="#1a1a1a" letter-spacing="-0.85" >1.0</text>
<line x1="437.09999999999997" y1="518.8" x2="440.7" y2="518.8" stroke="#1a1a1a" stroke-width="1.1" />
<text x="435.5" y="522.4" font-size="10.0" text-anchor="end" fill="#1a1a1a" letter-spacing="-0.85" >0.5</text>
<line x1="437.09999999999997" y1="555.3" x2="440.7" y2="555.3" stroke="#1a1a1a" stroke-width="1.1" />
<text x="435.5" y="558.9" font-size="10.0" text-anchor="end" fill="#1a1a1a" letter-spacing="-0.85" >0.0</text>
<text x="418.0" y="501" font-size="10.5" text-anchor="middle" fill="#1a1a1a" textLength="98.8" lengthAdjust="spacing" transform="rotate(-90 418.0 501)" >Normalised Expression</text>
<text x="495.3" y="440.5" font-size="10.4" text-anchor="middle" fill="#1a1a1a" textLength="76" lengthAdjust="spacingAndGlyphs" >MTHFD2 mRNA</text>
<rect x="453.1" y="482.2" width="21.5" height="73.1" fill="#a9a9a9" />
<rect x="484.7" y="515.1" width="21.0" height="40.2" fill="#111" />
<rect x="516.5" y="466.9" width="21.3" height="88.4" fill="#999999" />
<line x1="463.8" y1="482.7" x2="463.8" y2="465.7" stroke="#222" stroke-width="1.2" />
<line x1="458.0" y1="465.7" x2="469.6" y2="465.7" stroke="#222" stroke-width="1.2" />
<line x1="463.8" y1="555.3" x2="463.8" y2="558.5" stroke="#1a1a1a" stroke-width="1.1" />
<line x1="495.2" y1="515.6" x2="495.2" y2="510.6" stroke="#222" stroke-width="1.2" />
<line x1="489.4" y1="510.6" x2="501.0" y2="510.6" stroke="#222" stroke-width="1.2" />
<line x1="495.2" y1="555.3" x2="495.2" y2="558.5" stroke="#1a1a1a" stroke-width="1.1" />
<line x1="527.2" y1="467.4" x2="527.2" y2="464.7" stroke="#222" stroke-width="1.2" />
<line x1="521.4000000000001" y1="464.7" x2="533.0" y2="464.7" stroke="#222" stroke-width="1.2" />
<line x1="527.2" y1="555.3" x2="527.2" y2="558.5" stroke="#1a1a1a" stroke-width="1.1" />
<text x="444.4" y="576.0" font-size="10.4" text-anchor="start" fill="#1a1a1a" textLength="33.4" lengthAdjust="spacingAndGlyphs" >Control</text>
<text x="489.4" y="576.0" font-size="10.4" text-anchor="start" fill="#1a1a1a" textLength="13.8" lengthAdjust="spacingAndGlyphs" >SS</text>
<text x="519.8" y="576.0" font-size="10.4" text-anchor="start" fill="#1a1a1a" textLength="17.2" lengthAdjust="spacingAndGlyphs" >Rep</text>
<text x="519.8" y="587.9" font-size="10.4" text-anchor="start" fill="#1a1a1a" textLength="16.5" lengthAdjust="spacingAndGlyphs" >24h</text>
</g>
<g id="panelH">
<text x="132.6" y="593.4" font-size="9.8" text-anchor="middle" fill="#1a1a1a" textLength="34.7" lengthAdjust="spacingAndGlyphs" >Cytosol</text>
<text x="279.6" y="593.4" font-size="9.8" text-anchor="middle" fill="#1a1a1a" textLength="36" lengthAdjust="spacingAndGlyphs" >Nuclear</text>
<text x="96.3" y="610.4" font-size="9.6" text-anchor="middle" fill="#1a1a1a" >SS</text>
<text x="172.4" y="610.4" font-size="9.6" text-anchor="middle" fill="#1a1a1a" >Rep</text>
<text x="253.6" y="610.4" font-size="9.6" text-anchor="middle" fill="#1a1a1a" >SS</text>
<text x="306.6" y="610.4" font-size="9.6" text-anchor="middle" fill="#1a1a1a" >Rep</text>
<line x1="60" y1="615.1" x2="131" y2="615.1" stroke="#222" stroke-width="1.2" />
<line x1="138.1" y1="615.1" x2="208.7" y2="615.1" stroke="#222" stroke-width="1.2" />
<line x1="233.7" y1="614.6" x2="276.1" y2="614.6" stroke="#222" stroke-width="1.2" />
<line x1="286.1" y1="614.6" x2="329.1" y2="614.6" stroke="#222" stroke-width="1.2" />
<rect x="228" y="624" width="104" height="9" fill="#f6f6f6" filter="url(#b3)"/>
<rect x="336" y="706" width="24" height="18" fill="#f6f6f6" filter="url(#b3)"/>
<text x="96.3" y="631.0" font-size="8.6" text-anchor="middle" fill="#1a1a1a" >1.0</text>
<text x="172.4" y="631.0" font-size="8.6" text-anchor="middle" fill="#1a1a1a" >2.6</text>
<text x="252.3" y="631.0" font-size="8.6" text-anchor="middle" fill="#1a1a1a" >1.0</text>
<text x="305.3" y="631.0" font-size="8.6" text-anchor="middle" fill="#1a1a1a" >5.2</text>
<rect x="54" y="633.8" width="157" height="17.0" fill="#fdfdfd" stroke="#2a2a2a" stroke-width="1.15" />
<rect x="226.3" y="633.8" width="107.6" height="17.0" fill="#fdfdfd" stroke="#2a2a2a" stroke-width="1.15" />
<rect x="54" y="656.2" width="157" height="35.6" fill="#fdfdfd" stroke="#2a2a2a" stroke-width="1.15" />
<rect x="226.3" y="656.2" width="107.6" height="35.6" fill="#fdfdfd" stroke="#2a2a2a" stroke-width="1.15" />
<rect x="54" y="697.3" width="157" height="26.1" fill="#fdfdfd" stroke="#2a2a2a" stroke-width="1.15" />
<rect x="226.3" y="697.3" width="107.6" height="26.1" fill="#fdfdfd" stroke="#2a2a2a" stroke-width="1.15" />
<text x="49.8" y="647.0" font-size="8.6" text-anchor="end" fill="#1a1a1a" textLength="37" lengthAdjust="spacingAndGlyphs" >MTHFD2</text>
<text x="49.8" y="675.7" font-size="8.6" text-anchor="end" fill="#1a1a1a" textLength="27.3" lengthAdjust="spacingAndGlyphs" >Cox IV</text>
<text x="49.8" y="712.0" font-size="8.6" text-anchor="end" fill="#1a1a1a" textLength="43.4" lengthAdjust="spacingAndGlyphs" >Lamin A/C</text>
<text x="131.7" y="713.8" font-size="9.2" text-anchor="middle" fill="#1a1a1a" >N.D.</text>
<ellipse cx="74.75" cy="641.60" rx="16.05" ry="1.47" transform="rotate(-1.13 74.75 641.60)" fill="#333" opacity="0.72" filter="url(#b1)"/>
<ellipse cx="114.75" cy="640.70" rx="16.05" ry="1.47" transform="rotate(-1.13 114.75 640.70)" fill="#333" opacity="0.72" filter="url(#b1)"/>
<ellipse cx="152.75" cy="640.00" rx="15.05" ry="2.05" transform="rotate(-0.40 152.75 640.00)" fill="#000" opacity="1" filter="url(#b1)"/>
<ellipse cx="190.25" cy="640.55" rx="16.05" ry="1.89" transform="rotate(0.94 190.25 640.55)" fill="#000" opacity="1" filter="url(#b1)"/>
<line x1="60.5" y1="672.2" x2="93" y2="672.0" stroke="#000" stroke-width="7.4" stroke-linecap="round" opacity="1" filter="url(#b1)"/>
<line x1="99" y1="670.2" x2="129" y2="669.8" stroke="#000" stroke-width="7.6" stroke-linecap="round" opacity="1" filter="url(#b1)"/>
<line x1="90" y1="671.6" x2="101" y2="670.4" stroke="#000" stroke-width="6.6" stroke-linecap="round" opacity="1" filter="url(#b1)"/>
<line x1="136.5" y1="670.2" x2="165.5" y2="670.2" stroke="#000" stroke-width="6.2" stroke-linecap="round" opacity="1" filter="url(#b1)"/>
<line x1="174.5" y1="670.4" x2="203" y2="670.4" stroke="#000" stroke-width="6.0" stroke-linecap="round" opacity="1" filter="url(#b1)"/>
<line x1="128" y1="670.0" x2="138" y2="670.2" stroke="#000" stroke-width="4.4" stroke-linecap="round" opacity="0.95" filter="url(#b1)"/>
<line x1="164" y1="670.3" x2="175" y2="670.4" stroke="#000" stroke-width="2.2" stroke-linecap="round" opacity="0.6" filter="url(#b1)"/>
<ellipse cx="240.75" cy="642.75" rx="11.05" ry="1.58" transform="rotate(-1.40 240.75 642.75)" fill="#222" opacity="0.85" filter="url(#b1)"/>
<ellipse cx="267.50" cy="642.20" rx="11.31" ry="1.68" transform="rotate(-2.18 267.50 642.20)" fill="#222" opacity="0.88" filter="url(#b1)"/>
<ellipse cx="293.75" cy="641.85" rx="11.05" ry="1.78" transform="rotate(0.28 293.75 641.85)" fill="#000" opacity="0.95" filter="url(#b1)"/>
<ellipse cx="291.00" cy="641.90" rx="7.80" ry="2.31" transform="rotate(0.00 291.00 641.90)" fill="#000" opacity="0.9" filter="url(#b1)"/>
<ellipse cx="319.75" cy="641.25" rx="11.05" ry="1.78" transform="rotate(-0.84 319.75 641.25)" fill="#000" opacity="0.95" filter="url(#b1)"/>
<ellipse cx="322.50" cy="641.10" rx="8.30" ry="2.10" transform="rotate(-0.76 322.50 641.10)" fill="#000" opacity="0.9" filter="url(#b1)"/>
<line x1="249" y1="643.0" x2="259" y2="642.8" stroke="#555" stroke-width="1.2" stroke-linecap="round" opacity="0.4" filter="url(#b1)"/>
<line x1="302" y1="642.2" x2="311" y2="641.8" stroke="#444" stroke-width="1.4" stroke-linecap="round" opacity="0.5" filter="url(#b1)"/>
<line x1="231" y1="670.6" x2="262" y2="670.4" stroke="#999" stroke-width="1.2" stroke-linecap="round" opacity="0.25" filter="url(#b1)"/>
<line x1="258" y1="670.3" x2="330" y2="669.6" stroke="#888" stroke-width="1.5" stroke-linecap="round" opacity="0.42" filter="url(#b1)"/>
<path d="M231 709.2 Q240.75 711.2 250.5 709.2" fill="none" stroke="#000" stroke-width="3.0" stroke-linecap="round" opacity="1" filter="url(#b05)"/>
<path d="M257.5 709.2 Q267.25 711.2 277 709.2" fill="none" stroke="#000" stroke-width="3.0" stroke-linecap="round" opacity="1" filter="url(#b05)"/>
<path d="M285 709.7 Q293.5 711.3 302 709.7" fill="none" stroke="#111" stroke-width="1.9" stroke-linecap="round" opacity="0.9" filter="url(#b05)"/>
<path d="M311.5 709.5 Q319.75 711.0999999999999 328 709.5" fill="none" stroke="#111" stroke-width="1.8" stroke-linecap="round" opacity="0.85" filter="url(#b05)"/>
<path d="M232 714.8000000000001 Q241.0 716.4 250 714.8000000000001" fill="none" stroke="#888" stroke-width="1.0" stroke-linecap="round" opacity="0.4" filter="url(#b05)"/>
<path d="M258 714.8000000000001 Q267.25 716.4 276.5 714.8000000000001" fill="none" stroke="#888" stroke-width="1.0" stroke-linecap="round" opacity="0.4" filter="url(#b05)"/>
<path d="M286 714.6 Q293.75 715.8000000000001 301.5 714.6" fill="none" stroke="#999" stroke-width="0.8" stroke-linecap="round" opacity="0.3" filter="url(#b05)"/>
<path d="M312 714.4 Q319.75 715.6 327.5 714.4" fill="none" stroke="#999" stroke-width="0.8" stroke-linecap="round" opacity="0.3" filter="url(#b05)"/>
</g>
</svg>
</body></html>
